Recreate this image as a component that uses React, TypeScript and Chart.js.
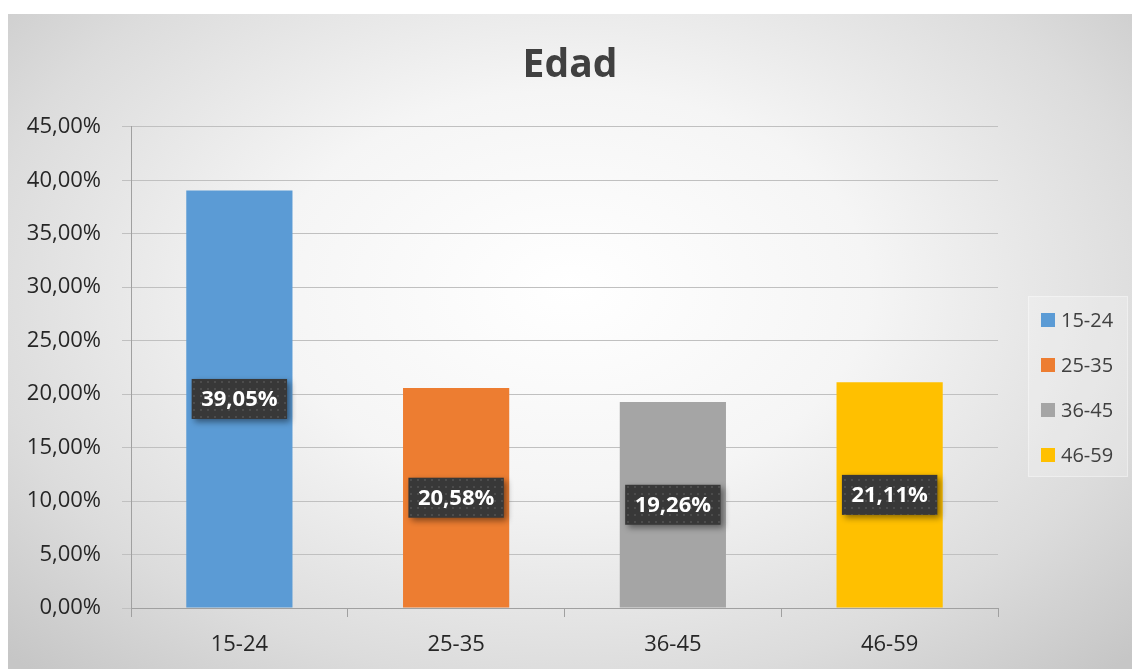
import React, { useEffect, useRef } from "react";
import { Chart, registerables } from "chart.js";

Chart.register(...registerables);

const chartTitle = "Edad";
const categories = ["15-24", "25-35", "36-45", "46-59"];
const values = [39.05, 20.58, 19.26, 21.11];
const barColors = ["#5B9BD5", "#ED7D31", "#A5A5A5", "#FFC000"];
const yMin = 0;
const yMax = 45;
const yStep = 5;

const FONT = '"Open Sans", "DejaVu Sans", sans-serif';

function fmt(v: number): string {
  return Number(v).toFixed(2).replace(".", ",") + "%";
}

function makePattern(ctx: CanvasRenderingContext2D): CanvasPattern | string {
  const c = document.createElement("canvas");
  c.width = 7;
  c.height = 7;
  const p = c.getContext("2d");
  if (!p) return "#3a3a3a";
  p.fillStyle = "#383838";
  p.fillRect(0, 0, 7, 7);
  p.fillStyle = "#4c4c4c";
  p.fillRect(3, 3, 2, 2);
  return ctx.createPattern(c, "repeat") || "#3a3a3a";
}

const centerTitlePlugin = {
  id: "centerTitle",
  afterLayout(chart: any) {
    const t = chart.titleBlock;
    if (t) {
      t.left = 0;
      t.right = chart.width;
      t.width = chart.width;
    }
  },
};

const boxLabelPlugin = {
  id: "boxLabels",
  afterDatasetsDraw(chart: any) {
    const ctx: CanvasRenderingContext2D = chart.ctx;
    const meta = chart.getDatasetMeta(0);
    const data = chart.data.datasets[0].data as number[];
    const pattern = makePattern(ctx);
    ctx.save();
    ctx.font = `bold 22px ${FONT}`;
    meta.data.forEach((bar: any, i: number) => {
      const text = fmt(data[i]);
      const w = ctx.measureText(text).width + 19;
      const h = 40;
      const cx = bar.x;
      const cy = (bar.y + bar.base) / 2;
      ctx.save();
      ctx.shadowColor = "rgba(0,0,0,0.45)";
      ctx.shadowBlur = 6;
      ctx.shadowOffsetX = 3;
      ctx.shadowOffsetY = 3;
      ctx.fillStyle = pattern;
      ctx.fillRect(cx - w / 2, cy - h / 2, w, h);
      ctx.restore();
      ctx.fillStyle = "#ffffff";
      ctx.textAlign = "center";
      ctx.textBaseline = "middle";
      ctx.fillText(text, cx, cy + 1);
    });
    ctx.restore();
  },
};

const sideLegendPlugin = {
  id: "sideLegend",
  afterDraw(chart: any) {
    const ctx: CanvasRenderingContext2D = chart.ctx;
    const labels = chart.data.labels as string[];
    const colors = chart.data.datasets[0].backgroundColor as string[];
    const left = chart.chartArea.right + 30;
    const top = 282;
    const w = 100;
    const h = 181;
    ctx.save();
    ctx.fillStyle = "rgba(255,255,255,0.22)";
    ctx.fillRect(left, top, w, h);
    ctx.strokeStyle = "rgba(255,255,255,0.35)";
    ctx.lineWidth = 1;
    ctx.strokeRect(left + 0.5, top + 0.5, w - 1, h - 1);
    ctx.font = `20px ${FONT}`;
    ctx.textBaseline = "middle";
    ctx.textAlign = "left";
    labels.forEach((lab, i) => {
      const cy = top + 24 + i * 45;
      ctx.fillStyle = colors[i];
      ctx.fillRect(left + 13, cy - 7, 14, 14);
      ctx.fillStyle = "#404040";
      ctx.fillText(lab, left + 33, cy + 1);
    });
    ctx.restore();
  },
};

export default function App() {
  const canvasRef = useRef<HTMLCanvasElement | null>(null);

  useEffect(() => {
    if (!canvasRef.current) return;
    const chart = new Chart(canvasRef.current, {
      type: "bar",
      data: {
        labels: categories,
        datasets: [
          {
            label: chartTitle,
            data: values,
            backgroundColor: barColors,
            borderWidth: 0,
            categoryPercentage: 1,
            barPercentage: 0.49,
          },
        ],
      },
      options: {
        animation: false,
        responsive: true,
        maintainAspectRatio: false,
        layout: { padding: { left: 0, right: 134, top: 0, bottom: 0 } },
        plugins: {
          legend: { display: false },
          tooltip: { enabled: false },
          title: {
            display: true,
            text: chartTitle,
            color: "#404040",
            font: { family: FONT, size: 39, weight: "bold", lineHeight: 1.2 },
            padding: { top: 28, bottom: 38 },
          },
        },
        scales: {
          x: {
            grid: {
              display: true,
              drawOnChartArea: false,
              drawTicks: true,
              tickLength: 9,
              color: "#a0a0a0",
              offset: true,
            },
            border: { display: true, color: "#a0a0a0" },
            ticks: { color: "#262626", font: { family: FONT, size: 22 }, padding: 15 },
            afterFit(s: any) {
              s.height = 61;
            },
          },
          y: {
            min: yMin,
            max: yMax,
            ticks: {
              stepSize: yStep,
              callback: (v: any) => fmt(Number(v)),
              color: "#262626",
              font: { family: FONT, size: 22 },
              padding: 21,
            },
            grid: { color: "#c0c0c0", tickLength: 9, drawTicks: true },
            border: { display: true, color: "#a0a0a0" },
            afterFit(s: any) {
              s.width = 123;
            },
          },
        },
      },
      plugins: [centerTitlePlugin, boxLabelPlugin, sideLegendPlugin],
    });
    return () => chart.destroy();
  }, []);

  return (
    <div
      style={{
        position: "absolute",
        left: 8,
        top: 14,
        width: 1124,
        height: 655,
        background:
          "radial-gradient(ellipse 70% 80% at 50% 42%, #ffffff 0%, #f5f5f5 38%, #dcdcdc 75%, #c6c6c6 100%)",
      }}
    >
      <canvas ref={canvasRef} />
    </div>
  );
}
